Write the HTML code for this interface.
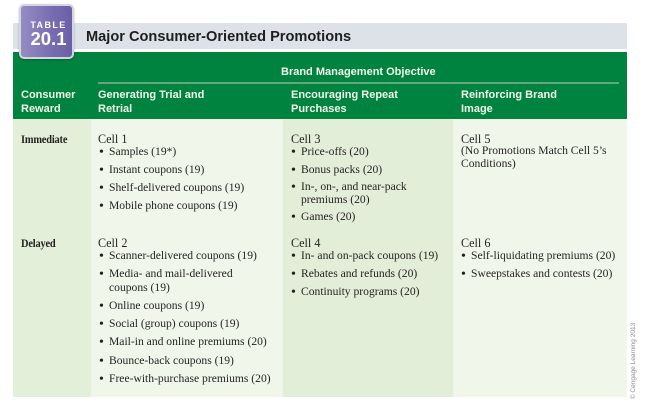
<!DOCTYPE html>
<html>
<head>
<meta charset="utf-8">
<style>
  html, body { margin:0; padding:0; background:#ffffff; }
  body { width:650px; height:407px; position:relative; overflow:hidden; }
  .abs { position:absolute; white-space:nowrap; }
  .gray { left:13px; top:23px; width:614px; height:26px; background:#dde2e8; }
  .green { left:13px; top:52px; width:614px; height:67px; background:#00833f; }
  .col { position:absolute; top:119px; height:278px; }
  .badge { left:19px; top:4px; width:51px; height:51px; border:2px solid #d3d6de; border-radius:5px;
           background:linear-gradient(90deg,#958cc4 0%,#7b6fb2 55%,#6a5ea6 100%);
           box-shadow:0 1px 2px rgba(0,0,0,0.25); }
  .sans { font-family:"Liberation Sans", Arial, sans-serif; font-weight:bold; }
  .hdr { font-family:"Liberation Sans", Arial, sans-serif; font-weight:bold; font-size:11px; line-height:14px; color:#f2f7ec; }
  .serif { font-family:"Liberation Serif", "Times New Roman", serif; font-size:11.6px; line-height:14px; color:#231f20; }
  .cell { font-size:12.2px; }
  .lbl { font-weight:bold; font-size:11.8px; letter-spacing:-0.2px; display:inline-block; transform:scaleX(0.88); transform-origin:left center; }
  .b::before { content:"\2022"; position:absolute; left:-10px; top:1px; font-size:14px; line-height:14px; color:#231f20; }
</style>
</head>
<body>
  <div class="abs gray"></div>
  <div class="abs sans" style="left:86px; top:28px; font-size:14.6px; line-height:18px; color:#1e1e1e;">Major Consumer-Oriented Promotions</div>

  <div class="abs green"></div>

  <div class="col" style="left:13px; width:78px; background:#e4efda;"></div>
  <div class="col" style="left:91px; width:192px; background:#f1f6eb;"></div>
  <div class="col" style="left:283px; width:170px; background:#e2eed7;"></div>
  <div class="col" style="left:453px; width:174px; background:#f1f6eb;"></div>

  <div class="abs badge"></div>
  <div class="abs sans" style="left:21px; width:55px; text-align:center; top:20px; font-size:9px; line-height:10px; letter-spacing:1.4px; color:#ffffff;">TABLE</div>
  <div class="abs sans" style="left:21px; width:55px; text-align:center; top:30px; font-size:18.5px; line-height:18px; color:#ffffff;">20.1</div>

  <div class="abs hdr" style="left:281px; top:65px;">Brand Management Objective</div>
  <div class="abs" style="left:98px; top:82px; width:521px; height:2px; background:#5fa97c;"></div>

  <div class="abs hdr" style="left:21px; top:88px;">Consumer</div>
  <div class="abs hdr" style="left:21px; top:102px;">Reward</div>
  <div class="abs hdr" style="left:98px; top:88px;">Generating Trial and</div>
  <div class="abs hdr" style="left:98px; top:102px;">Retrial</div>
  <div class="abs hdr" style="left:291px; top:88px;">Encouraging Repeat</div>
  <div class="abs hdr" style="left:291px; top:102px;">Purchases</div>
  <div class="abs hdr" style="left:461px; top:88px;">Reinforcing Brand</div>
  <div class="abs hdr" style="left:461px; top:102px;">Image</div>

  <div class="abs serif" style="left:21px; top:132px;"><span class="lbl">Immediate</span></div>

  <div class="abs serif cell" style="left:98px; top:132px;">Cell 1</div>
  <div class="abs serif b" style="left:109px; top:145px;">Samples (19*)</div>
  <div class="abs serif b" style="left:109px; top:163px;">Instant coupons (19)</div>
  <div class="abs serif b" style="left:109px; top:181px;">Shelf-delivered coupons (19)</div>
  <div class="abs serif b" style="left:109px; top:199px;">Mobile phone coupons (19)</div>

  <div class="abs serif cell" style="left:291px; top:132px;">Cell 3</div>
  <div class="abs serif b" style="left:301px; top:145px;">Price-offs (20)</div>
  <div class="abs serif b" style="left:301px; top:163px;">Bonus packs (20)</div>
  <div class="abs serif b" style="left:301px; top:180px;">In-, on-, and near-pack</div>
  <div class="abs serif" style="left:301px; top:193px;">premiums (20)</div>
  <div class="abs serif b" style="left:301px; top:210px;">Games (20)</div>

  <div class="abs serif cell" style="left:461px; top:132px;">Cell 5</div>
  <div class="abs serif" style="left:461px; top:144px;">(No Promotions Match Cell 5’s</div>
  <div class="abs serif" style="left:461px; top:157px;">Conditions)</div>

  <div class="abs serif" style="left:21px; top:236px;"><span class="lbl">Delayed</span></div>

  <div class="abs serif cell" style="left:98px; top:236px;">Cell 2</div>
  <div class="abs serif b" style="left:109px; top:249px;">Scanner-delivered coupons (19)</div>
  <div class="abs serif b" style="left:109px; top:267px;">Media- and mail-delivered</div>
  <div class="abs serif" style="left:109px; top:281px;">coupons (19)</div>
  <div class="abs serif b" style="left:109px; top:299px;">Online coupons (19)</div>
  <div class="abs serif b" style="left:109px; top:317px;">Social (group) coupons (19)</div>
  <div class="abs serif b" style="left:109px; top:335px;">Mail-in and online premiums (20)</div>
  <div class="abs serif b" style="left:109px; top:354px;">Bounce-back coupons (19)</div>
  <div class="abs serif b" style="left:109px; top:372px;">Free-with-purchase premiums (20)</div>

  <div class="abs serif cell" style="left:291px; top:236px;">Cell 4</div>
  <div class="abs serif b" style="left:301px; top:249px;">In- and on-pack coupons (19)</div>
  <div class="abs serif b" style="left:301px; top:267px;">Rebates and refunds (20)</div>
  <div class="abs serif b" style="left:301px; top:285px;">Continuity programs (20)</div>

  <div class="abs serif cell" style="left:461px; top:236px;">Cell 6</div>
  <div class="abs serif b" style="left:471px; top:249px;">Self-liquidating premiums (20)</div>
  <div class="abs serif b" style="left:471px; top:267px;">Sweepstakes and contests (20)</div>

  <div class="abs" style="left:634px; top:361px; font-family:'Liberation Sans', Arial, sans-serif; font-size:6.5px; line-height:8px; color:#8a8a8a; transform:translate(-50%,-50%) rotate(-90deg);">© Cengage Learning 2013</div>
</body>
</html>
